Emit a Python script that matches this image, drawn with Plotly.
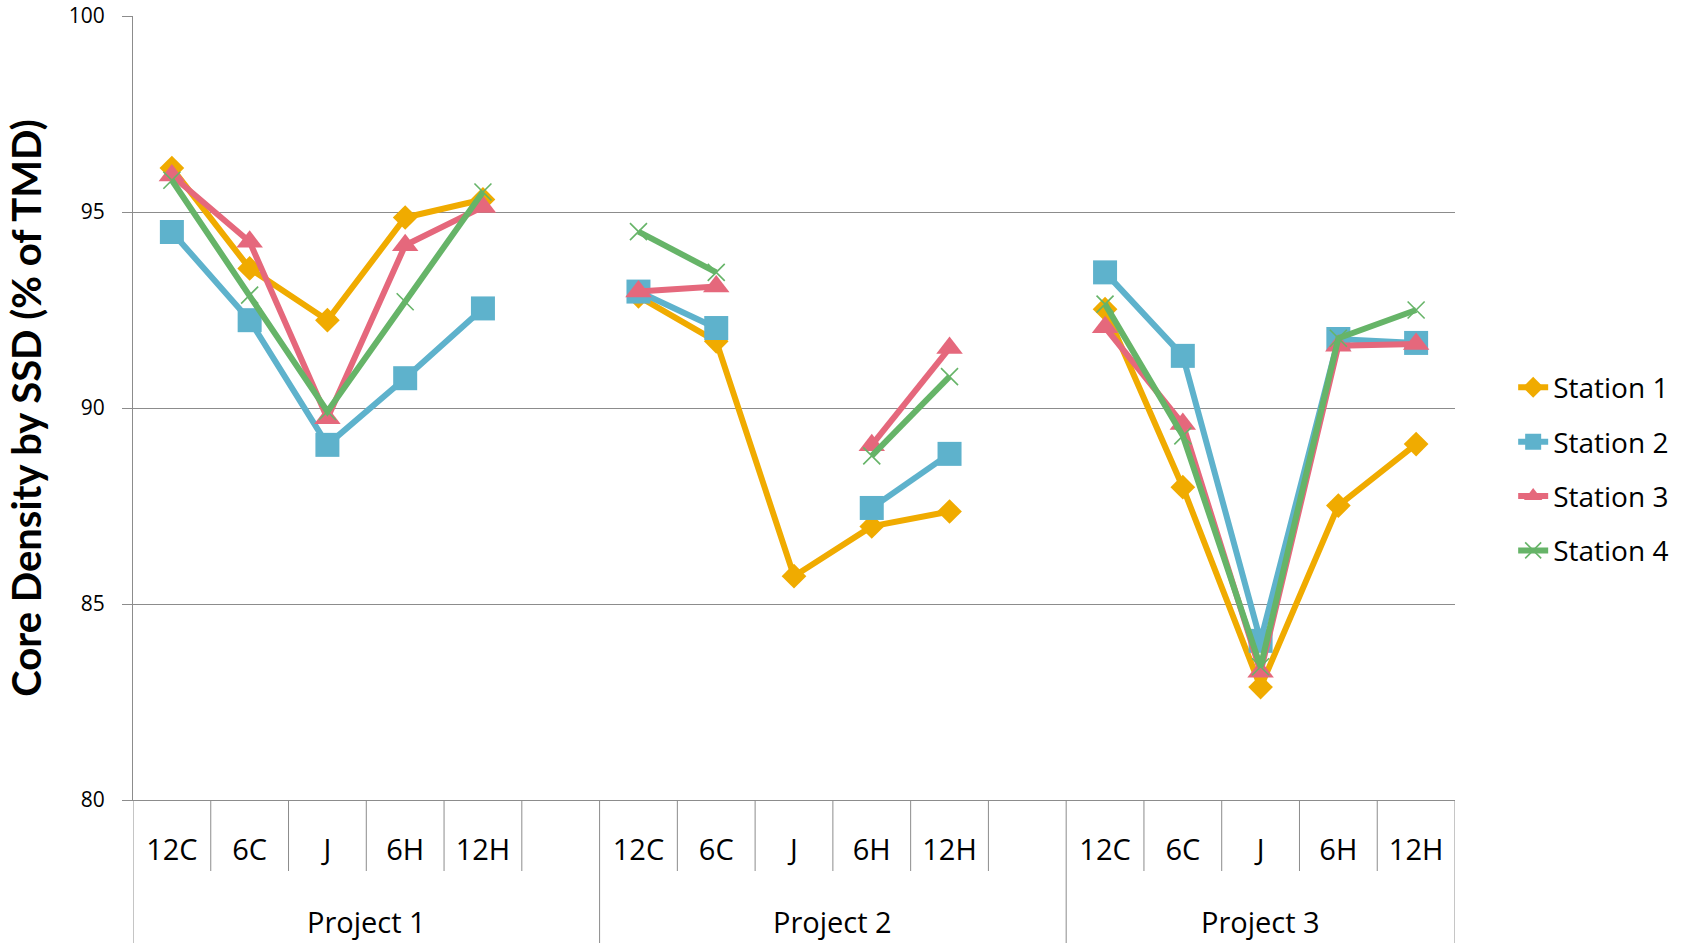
import plotly.graph_objects as go

# Category layout: three projects, a blank slot separating consecutive projects
projects = ["Project 1", "Project 2", "Project 3"]
positions = ["12C", "6C", "J", "6H", "12H"]
sub_labels = positions + [""] + positions + [""] + positions

# Core density (% of TMD) per station; None = no measurement / blank slot
station_1 = [96.12, 93.56, 92.24, 94.86, 95.32, None,
             92.85, 91.70, 85.71, 86.98, 87.36, None,
             92.52, 87.98, 82.88, 87.51, 89.08]
station_2 = [94.49, 92.24, 89.06, 90.76, 92.54, None,
             92.97, 92.04, None, 87.45, 88.83, None,
             93.46, 91.33, 84.06, 91.76, 91.66]
station_3 = [95.93, 94.24, 89.74, 94.15, 95.13, None,
             92.97, 93.10, None, 89.05, 91.53, None,
             92.06, 89.59, 83.27, 91.59, 91.63]
station_4 = [95.81, 92.88, 89.91, 92.71, 95.51, None,
             94.50, 93.46, None, 88.78, 90.80, None,
             92.65, 89.29, 83.40, 91.78, 92.50]

series = [
    ("Station 1", station_1, "#F0AB00", "diamond", 19),
    ("Station 2", station_2, "#5EB2CC", "square", 24),
    ("Station 3", station_3, "#E5687C", "triangle-up", 23),
    ("Station 4", station_4, "#66B468", "x-thin", 17),
]

x_idx = list(range(len(sub_labels)))
FONT = "Open Sans, Noto Sans, sans-serif"
TITLE_FONT = "Lato, Roboto, sans-serif"
GRID = "#8C8C8C"

fig = go.Figure()
for i, (name, vals, color, symbol, size) in enumerate(series):
    marker = dict(symbol=symbol, size=size, color=color)
    if symbol == "x-thin":
        marker["line"] = dict(color=color, width=1.6)
    else:
        marker["line"] = dict(width=0)
    fig.add_trace(go.Scatter(
        x=x_idx, y=vals, name=name, mode="lines+markers",
        line=dict(color=color, width=6), marker=marker,
        connectgaps=False, legendgroup=f"g{i}",
    ))

# Separators of the two-level category axis
shapes = []
n = len(sub_labels)
bottom_short = -71 / 784
bottom_long = -143 / 784
group_edges = [-0.5, 5.5, 11.5, n - 0.5]
for k in range(n - 1):
    xb = k + 0.5
    if xb in group_edges:
        continue
    shapes.append(dict(type="line", xref="x", yref="paper", x0=xb, x1=xb,
                       y0=0, y1=bottom_short, line=dict(color=GRID, width=1)))
for xb in group_edges:
    shapes.append(dict(type="line", xref="x", yref="paper", x0=xb, x1=xb,
                       y0=0, y1=bottom_long, line=dict(color=GRID, width=1)))

# Project names centred under their slots
project_centers = [2.5, 8.5, 14.0]
annotations = [
    dict(text=p, x=c, xref="x", y=-122 / 784, yref="paper", showarrow=False,
         xanchor="center", yanchor="middle",
         font=dict(family=FONT, size=29, color="black"))
    for p, c in zip(projects, project_centers)
]

fig.update_layout(
    width=1692, height=943,
    margin=dict(l=133, r=237, t=16, b=143, autoexpand=False),
    plot_bgcolor="white", paper_bgcolor="white",
    font=dict(family=FONT, color="black"),
    shapes=shapes, annotations=annotations,
    showlegend=True,
    legend=dict(x=1.044, xanchor="left", y=0.558, yanchor="top",
                font=dict(family=FONT, size=28, color="black"),
                tracegroupgap=15, bgcolor="rgba(0,0,0,0)"),
    xaxis=dict(range=[-0.5, n - 0.5], tickmode="array", tickvals=x_idx,
               ticktext=sub_labels, ticks="", showgrid=False, zeroline=False,
               showline=True, linecolor=GRID, linewidth=1, automargin=False,
               tickfont=dict(family=FONT, size=29, color="black"),
               ticklabelstandoff=24),
    yaxis=dict(range=[80, 100], tickmode="array", tickvals=[80, 85, 90, 95, 100],
               showgrid=True, gridcolor=GRID, gridwidth=1, zeroline=False,
               showline=True, linecolor=GRID, linewidth=1, automargin=False,
               ticks="outside", ticklen=10, tickcolor=GRID,
               tickfont=dict(family=FONT, size=21, color="black"),
               ticklabelstandoff=13,
               title=dict(text="Core Density by SSD (% of TMD)",
                          font=dict(family=TITLE_FONT, size=40, color="black",
                                    weight="bold"),
                          standoff=14)),
)

fig.write_html("out.html")
